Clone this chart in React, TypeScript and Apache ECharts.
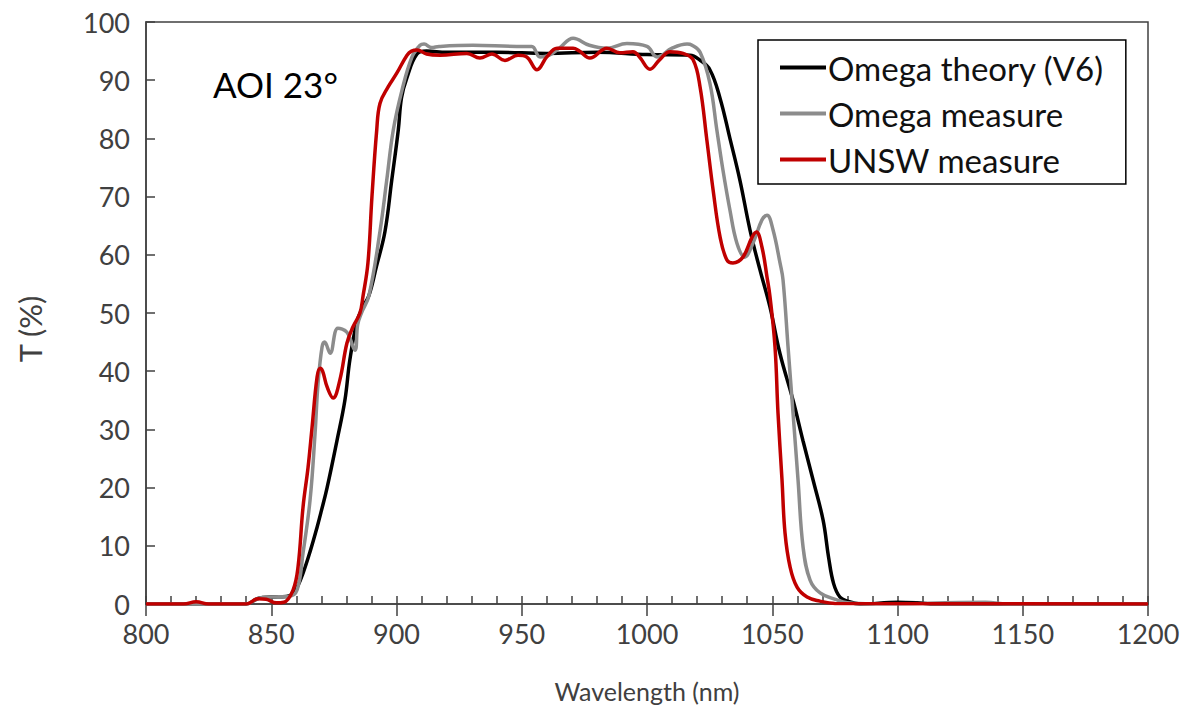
import React, { useEffect, useRef } from "react";
import * as echarts from "echarts";

const xTicks = [800, 850, 900, 950, 1000, 1050, 1100, 1150, 1200];
const seriesNames = ["Omega theory (V6)", "Omega measure", "UNSW measure"];

const theoryNm = [800, 840, 845, 850, 856, 858.7, 860.5, 862.7, 865.5, 868.3, 870, 872.3, 876.2, 879.4, 881.4, 884.2, 886.5, 889, 892, 895.4, 898.1, 900.7, 902, 904.2, 908.2, 912, 920, 940, 960, 980, 1000, 1017.2, 1021, 1025.1, 1029.1, 1033.1, 1037.1, 1041.1, 1045.1, 1049.1, 1053.1, 1058.3, 1062.3, 1066.3, 1070.3, 1072.5, 1074.5, 1077, 1080, 1085, 1100, 1108, 1115, 1200];
const theoryT = [0, 0, 1.0, 1.2, 1.3, 1.8, 3, 5.3, 9, 13.2, 16, 20, 28, 35, 42, 48.5, 51, 53, 58, 64, 72.8, 81.4, 87, 90.5, 94.5, 95, 94.8, 94.8, 94.6, 94.8, 94.4, 94.3, 93.5, 91.8, 87, 80, 72.8, 64.3, 57.4, 51, 43, 35, 28, 21.3, 14.4, 8, 3.5, 1.2, 0.5, 0, 0.3, 0.2, 0, 0];

const measureNm = [800, 840, 845, 850, 857, 860.3, 862.7, 865.5, 867.5, 868.7, 870.3, 871.3, 873.5, 876.6, 880.2, 883.4, 884.5, 886, 889, 893.4, 896.1, 898.7, 902.2, 906.2, 909.4, 911, 914, 917, 930.5, 948, 954, 957.3, 961, 965, 970.5, 977, 984, 992, 1000, 1004, 1010, 1016, 1018, 1021.2, 1025.1, 1027.9, 1030.3, 1033.1, 1035.9, 1039, 1042.3, 1045.9, 1047.9, 1050.3, 1053.1, 1054.3, 1056.3, 1058.3, 1060.3, 1062.3, 1065.1, 1069.1, 1075.8, 1080, 1090, 1135, 1145, 1200];
const measureT = [0, 0, 1.0, 1.2, 1.3, 2.4, 8.8, 17.9, 29.4, 38, 44.2, 45, 43.1, 47.4, 46.7, 43.6, 48, 50, 53, 64, 72.8, 81.4, 88.3, 94, 96, 96.2, 95.6, 95.8, 96, 95.8, 95.8, 94, 94.3, 95.5, 97.2, 96, 95.5, 96.3, 95.8, 94, 95.5, 96.2, 96, 94.8, 89.5, 81.4, 74.6, 67.7, 62, 59.6, 62, 66, 66.8, 64.3, 58.6, 55.7, 44.2, 32.8, 21.3, 9.8, 4.1, 1.9, 0.7, 0.2, 0, 0.3, 0, 0];

const unswNm = [800, 815, 820, 825, 840, 844.7, 848, 852, 855, 858.7, 860.7, 862.7, 864.7, 866.3, 868.3, 869.5, 870.5, 872.3, 874.7, 877.4, 880.2, 882.6, 885.4, 886.6, 888.6, 890.2, 892.1, 893.4, 896.6, 900.1, 904.2, 906, 908.2, 912, 917.4, 928.1, 933.3, 938.1, 943.3, 948.5, 952, 956.1, 960, 964.1, 970.5, 973, 977.2, 984, 989.2, 994.4, 997, 1001.2, 1005, 1009.2, 1014.4, 1018.4, 1021.2, 1023.9, 1026.4, 1029.2, 1031.9, 1034.3, 1038.3, 1041.9, 1043.7, 1045.9, 1047.9, 1049.1, 1051.1, 1052.3, 1053.9, 1055.1, 1057.1, 1059.9, 1063.9, 1069, 1075, 1200];
const unswT = [0, 0, 0.4, 0, 0, 0.9, 0.8, 0.2, 0.3, 2.4, 6.4, 16.7, 23.5, 30.4, 39, 40.5, 40, 37.3, 35.4, 38.5, 44.8, 47.6, 50, 52.8, 58.6, 70, 81.4, 86, 88.8, 91.2, 94.3, 95, 95.2, 94.5, 94.3, 94.6, 93.8, 94.5, 93.4, 94.3, 94, 91.8, 94, 95.5, 95.5, 95, 93.8, 95.5, 94.7, 94.9, 94, 91.9, 93.5, 94.9, 94.6, 93.5, 88.8, 79.7, 71.1, 63, 59.1, 58.6, 59.6, 63, 63.9, 61.3, 56.2, 52.8, 44.2, 32.8, 21.3, 12.2, 6.4, 2.9, 1.2, 0.5, 0.1, 0];

const colors = ["#000000", "#8c8c8c", "#c00000"];

const zip = (a: number[], b: number[]) => a.map((v, i) => [v, b[i]]);

export default function App() {
  const ref = useRef<HTMLDivElement>(null);
  useEffect(() => {
    if (!ref.current) return;
    const chart = echarts.init(ref.current, null, { renderer: "svg" });
    const font = "Lato, 'Open Sans', sans-serif";
    const axisColor = "#404040";
    const lineSeries = (name: string, data: number[][], color: string) => ({
      name,
      type: "line",
      data,
      xAxisIndex: 0,
      showSymbol: false,
      symbol: "none",
      smooth: 0.4,
      lineStyle: { color, width: 3.5 },
      itemStyle: { color },
    });
    chart.setOption({
      animation: false,
      backgroundColor: "#ffffff",
      grid: {
        left: 146,
        right: 42,
        top: 22,
        bottom: 116,
        show: true,
        borderColor: axisColor,
        borderWidth: 1.5,
        containLabel: false,
      },
      xAxis: [
        {
          type: "value",
          min: xTicks[0],
          max: xTicks[xTicks.length - 1],
          interval: 50,
          position: "bottom",
          name: "Wavelength (nm)",
          nameLocation: "middle",
          nameGap: 74,
          nameTextStyle: { fontFamily: font, fontSize: 25, color: axisColor },
          axisLine: { show: true, lineStyle: { color: axisColor, width: 1.5 } },
          axisTick: { show: true, inside: true, length: 8, lineStyle: { color: axisColor, width: 1.5 } },
          minorTick: { show: true, splitNumber: 5, length: 8, lineStyle: { color: axisColor, width: 1.5 } },
          axisLabel: {
            fontFamily: font,
            fontSize: 27,
            color: axisColor,
            margin: 16,
            formatter: (v: number) => String(v),
          },
          splitLine: { show: false },
        },
        {
          type: "value",
          min: xTicks[0],
          max: xTicks[xTicks.length - 1],
          interval: 50,
          position: "bottom",
          axisLine: { show: false },
          axisTick: { show: true, inside: false, length: 12, lineStyle: { color: axisColor, width: 1.5 } },
          axisLabel: { show: false },
          splitLine: { show: false },
        },
      ],
      yAxis: {
        type: "value",
        min: 0,
        max: 100,
        interval: 10,
        axisLine: { show: true, lineStyle: { color: axisColor, width: 1.5 } },
        axisTick: { show: true, inside: true, length: 9, lineStyle: { color: axisColor, width: 1.5 } },
        axisLabel: { fontFamily: font, fontSize: 27, color: axisColor, margin: 16 },
        splitLine: { show: false },
      },
      legend: {
        orient: "vertical",
        left: 758,
        top: 40,
        data: seriesNames,
        icon: "rect",
        itemWidth: 46,
        itemHeight: 4,
        itemGap: 13,
        padding: [11, 22, 8, 22],
        borderColor: "#000000",
        borderWidth: 1.5,
        backgroundColor: "#ffffff",
        textStyle: { fontFamily: font, fontSize: 33, color: "#111111", padding: [0, 0, 0, -3] },
      },
      graphic: [
        {
          type: "text",
          left: 213,
          top: 66,
          style: { text: "AOI 23°", font: `35px ${font}`, fill: "#000000" },
        },
        {
          type: "text",
          x: 30,
          y: 329,
          rotation: Math.PI / 2,
          style: {
            text: "T (%)",
            font: `31px ${font}`,
            fill: axisColor,
            align: "center",
            verticalAlign: "middle",
          },
        },
      ],
      series: [
        lineSeries(seriesNames[0], zip(theoryNm, theoryT), colors[0]),
        lineSeries(seriesNames[1], zip(measureNm, measureT), colors[1]),
        lineSeries(seriesNames[2], zip(unswNm, unswT), colors[2]),
      ],
    });
    return () => chart.dispose();
  }, []);
  return (
    <div
      ref={ref}
      style={{ position: "fixed", left: 0, top: 0, width: 1190, height: 720 }}
    />
  );
}
